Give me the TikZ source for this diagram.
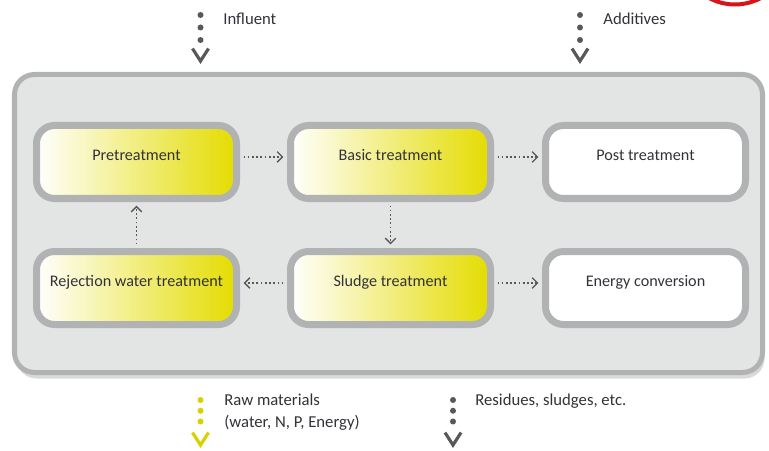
\documentclass[tikz,border=0pt]{standalone}
\usepackage{fontspec}
\setmainfont{Carlito}
\usetikzlibrary{positioning,arrows.meta,shadows}
\definecolor{framegray}{RGB}{177,178,179}
\definecolor{panelgray}{RGB}{227,228,228}
\definecolor{boxyellow}{RGB}{228,220,0}
\definecolor{dotgray}{RGB}{88,88,90}
\definecolor{txtgray}{RGB}{50,50,56}
\definecolor{rawyellow}{RGB}{214,210,0}
\definecolor{markred}{RGB}{214,20,28}

\tikzset{
  stage/.style={draw=framegray, line width=0.14cm, rounded corners=0.36cm,
    minimum width=4cm, minimum height=1.46cm, text height=0.2cm, text depth=0.25cm,
    text=txtgray, font=\fontsize{9.2}{11}\selectfont},
  core/.style={stage, left color=white, right color=boxyellow},
  plain/.style={stage, fill=white},
  flow/.style={dotgray, line width=0.9pt, dash pattern=on 1pt off 1.4pt,
    shorten >=2pt, shorten <=2pt, -{Straight Barb[length=3pt, width=6pt, line width=0.8pt]}},
  ioflow/.style={line width=0.12cm, line cap=round,
    dash pattern=on 0pt off #1 on 0pt off #1 on 0pt off 3cm,
    -{Straight Barb[length=0.25cm, width=0.32cm, line width=1.8pt]}},
  ioflow/.default=0.25cm,
  iolabel/.style={text=txtgray, font=\fontsize{9.5}{12}\selectfont, inner sep=0pt}
}

\begin{document}
\begin{tikzpicture}
\useasboundingbox (0,0) rectangle (15.38,9);
% cut-off red mark, top right
\begin{scope}
  \clip (0,0) rectangle (15.38,9);
  \draw[markred, line width=0.08cm, fill=white] (14.7,10.01) circle (1.1cm);
\end{scope}

% panel
\node[draw=framegray, fill=panelgray, line width=0.1cm, rounded corners=0.4cm,
  minimum width=14.96cm, minimum height=5.96cm,
  drop shadow={shadow xshift=0.04cm, shadow yshift=-0.12cm, opacity=0.3}] (frame) at (7.77,4.53) {};

% stages
\node[core] (pre) at (2.73,5.76) {Pretreatment};
\node[core, right=0.94cm of pre] (basic) {Basic treatment};
\node[plain, right=0.96cm of basic] (post) {Post treatment};
\node[core, below=0.92cm of pre] (rej) {Rejection water treatment};
\node[core, below=0.92cm of basic] (sludge) {Sludge treatment};
\node[plain, below=0.92cm of post] (energy) {Energy conversion};

\draw[flow] ([yshift=0.1cm]pre.east) -- ([yshift=0.1cm]basic.west);
\draw[flow] ([yshift=0.1cm]basic.east) -- ([yshift=0.1cm]post.west);
\draw[flow] (basic) -- (sludge);
\draw[flow] ([yshift=0.1cm]sludge.west) -- ([yshift=0.1cm]rej.east);
\draw[flow] ([yshift=0.1cm]sludge.east) -- ([yshift=0.1cm]energy.west);
\draw[flow] (rej) -- (pre);

% in and out
\coordinate (infl) at (4.01,8.70);
\coordinate (addi) at (11.6,8.70);
\coordinate (rawS) at (4.01,1.0);
\coordinate (raw) at (4.01,0.04);
\coordinate (resiS) at (9.06,1.0);
\coordinate (resi) at (9.06,0.04);
\draw[ioflow, dotgray, shorten >=0.16cm] (infl) -- (infl |- frame.north);
\draw[ioflow, dotgray, shorten >=0.16cm] (addi) -- (addi |- frame.north);
\draw[ioflow=0.215cm, rawyellow] (rawS) -- (raw);
\draw[ioflow=0.215cm, dotgray] (resiS) -- (resi);

\node[iolabel, anchor=base west] (inflT) at (4.46,8.50) {Influent};
\node[iolabel, anchor=base west] (addiT) at (12.06,8.50) {Additives};
\node[iolabel, anchor=north west, align=left] (rawT) at (4.48,1.12) {Raw materials\\(water, N, P, Energy)};
\node[iolabel, anchor=base west] (resiT) at (9.5,0.89) {Residues, sludges, etc.};
\end{tikzpicture}
\end{document}
